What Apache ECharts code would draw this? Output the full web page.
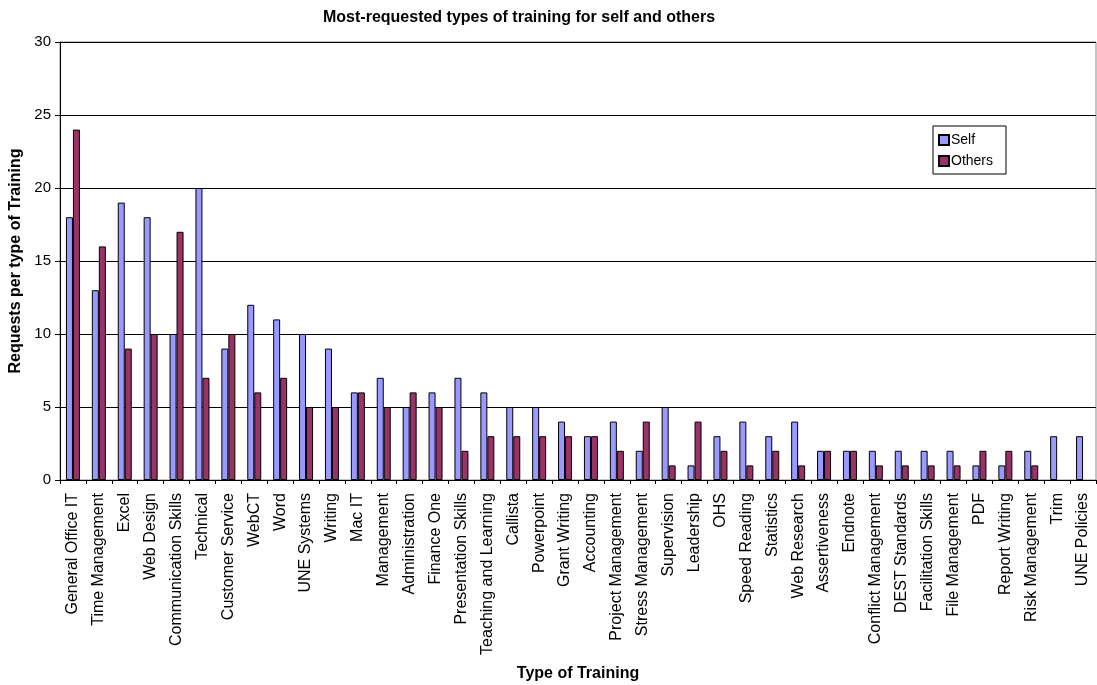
<!DOCTYPE html>
<html><head><meta charset="utf-8">
<script src="https://cdn.jsdelivr.net/npm/echarts@6/dist/echarts.min.js"></script>
<style>html,body{margin:0;padding:0;background:#fff}#c{width:1097px;height:685px}</style>
</head><body><div id="c"></div>
<script>
const categories = ["General Office IT","Time Management","Excel","Web Design","Communication Skills","Technical","Customer Service","WebCT","Word","UNE Systems","Writing","Mac IT","Management","Administration","Finance One","Presentation Skills","Teaching and Learning","Callista","Powerpoint","Grant Writing","Accounting","Project Management","Stress Management","Supervision","Leadership","OHS","Speed Reading","Statistics","Web Research","Assertiveness","Endnote","Conflict Management","DEST Standards","Facilitation Skills","File Management","PDF","Report Writing","Risk Management","Trim","UNE Policies"];
const selfValues = [18,13,19,18,10,20,9,12,11,10,9,6,7,5,6,7,6,5,5,4,3,4,2,5,1,3,4,3,4,2,2,2,2,2,2,1,1,2,3,3];
const othersValues = [24,16,9,10,17,7,10,6,7,5,5,6,5,6,5,2,3,3,3,3,3,2,4,1,4,2,1,2,1,2,2,1,1,1,1,2,2,1,null,null];
const yTicks = [0,5,10,15,20,25,30];

const font = 'Liberation Sans, Arial, sans-serif';
const chart = echarts.init(document.getElementById('c'), null, {renderer:'canvas'});
chart.setOption({
  animation:false,
  backgroundColor:'#fff',
  title:{text:'Most-requested types of training for self and others',left:318,top:5,
    textStyle:{fontFamily:font,fontSize:16,fontWeight:'bold',color:'#000'}},
  legend:{orient:'vertical',left:933,top:126,width:73,
    padding:[7,13,6,5],itemGap:7,
    borderColor:'#000',borderWidth:1,
    itemWidth:10,itemHeight:10,icon:'rect',
    textStyle:{fontFamily:font,fontSize:14,color:'#000',padding:[0,0,0,-3]},
    data:['Self','Others']},
  grid:{left:60,right:1,top:42,bottom:205,containLabel:false,outerBoundsMode:'none',show:true,borderColor:'#888',borderWidth:1},
  xAxis:{type:'category',data:categories,
    name:'Type of Training',nameLocation:'middle',nameGap:186,
    nameTextStyle:{fontFamily:font,fontSize:16,fontWeight:'bold',color:'#000'},
    axisLine:{lineStyle:{color:'#000'}},
    axisTick:{show:true,length:4,lineStyle:{color:'#000'}},
    axisLabel:{rotate:90,interval:0,margin:13,fontFamily:font,fontSize:16,color:'#000'}},
  yAxis:{type:'value',min:0,max:30,interval:5,
    name:'Requests per type of Training',nameLocation:'middle',nameGap:36,
    nameTextStyle:{fontFamily:font,fontSize:16,fontWeight:'bold',color:'#000'},
    axisLine:{show:true,lineStyle:{color:'#000'}},
    axisTick:{show:true,length:5,lineStyle:{color:'#000'}},
    axisLabel:{margin:9,fontFamily:font,fontSize:15,color:'#000',
      formatter:v=>yTicks.includes(v)?String(v):''},
    splitLine:{lineStyle:{color:'#000',width:1}}},
  series:[
    {name:'Self',type:'bar',data:selfValues,barWidth:7,barGap:'0%',
      itemStyle:{color:'#9999FF',borderColor:'#000',borderWidth:1}},
    {name:'Others',type:'bar',data:othersValues,barWidth:7,
      itemStyle:{color:'#993366',borderColor:'#000',borderWidth:1}}
  ]
});
</script></body></html>
